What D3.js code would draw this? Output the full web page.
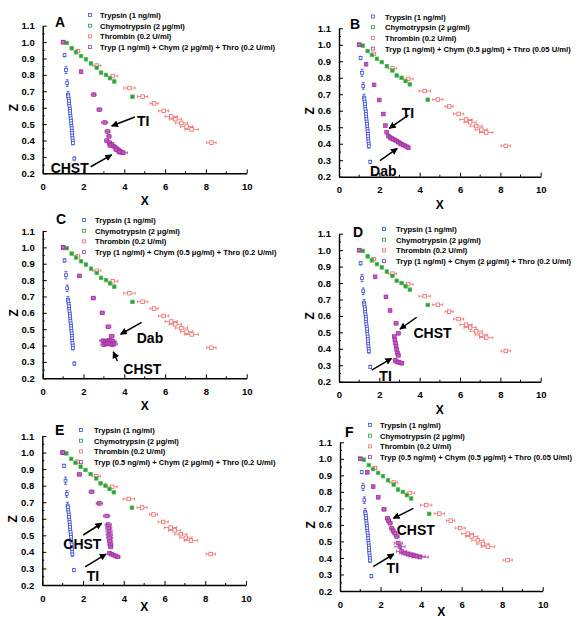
<!DOCTYPE html>
<html>
<head>
<meta charset="utf-8">
<script src="https://cdn.jsdelivr.net/npm/d3@7/dist/d3.min.js"></script>
<style>
body{margin:0;background:#fff;}
text{font-family:"Liberation Sans",Arial,sans-serif;}
</style>
</head>
<body>
<svg id="chart" width="581" height="618"></svg>
<script>
// shared series (same in every panel)
var trypX = [1.0,1.07,1.14,1.2,1.24,1.26,1.27,1.29,1.30,1.31,1.33,1.34,1.35,1.36,1.37,1.39,1.40,1.41,1.42,1.43,1.44,1.45,1.46,1.47,1.48,1.55]
var trypZ = [1.0,0.92,0.83,0.75,0.68,0.67,0.655,0.64,0.625,0.61,0.595,0.58,0.565,0.55,0.535,0.52,0.505,0.49,0.475,0.46,0.445,0.43,0.415,0.40,0.385,0.29]
var trypZErr = [0,0.01,0.022,0.02,0.02,0.014,0.012,0.012,0.012,0.012,0.012,0.012,0.012,0.012,0.012,0.012,0.012,0.012,0.012,0.012,0.012,0.012,0.012,0.012,0.012,0.01]

var chymX = [1.0,1.18,1.42,1.63,1.88,2.12,2.37,2.65,2.86,3.1,3.3,3.51,4.4]
var chymZ = [1.0,0.995,0.962,0.938,0.915,0.895,0.87,0.844,0.814,0.80,0.78,0.76,0.667]
var chymXErr = [0,0.03,0.03,0.03,0.03,0.03,0.03,0.04,0.04,0.05,0.05,0.05,0.08]

var thrX = [1.0,1.72,2.65,3.43,4.25,4.9,5.46,5.93,6.3,6.5,6.8,7.05,7.3,8.27]
var thrZ = [1.0,0.945,0.857,0.793,0.72,0.668,0.626,0.581,0.547,0.53,0.507,0.485,0.468,0.387]
var thrXErr = [0,0.1,0.2,0.25,0.28,0.25,0.2,0.25,0.3,0.3,0.3,0.3,0.33,0.23]

// mixtures, one per panel
var comboAX = [1.0,1.88,2.5,2.78,3.04,3.18,3.25,3.14,3.27,3.38,3.46,3.54,3.63,3.71,3.79,3.87,3.95,3.6,3.75,3.3]
var comboAZ = [1.0,0.82,0.68,0.588,0.51,0.455,0.425,0.399,0.387,0.377,0.367,0.359,0.35,0.342,0.334,0.328,0.325,0.345,0.33,0.37]
var comboAXErr = [0,0.05,0.12,0.12,0.15,0.12,0.1,0.1,0.1,0.1,0.1,0.1,0.12,0.12,0.15,0.15,0.2,0.1,0.1,0.1]

var comboBX = [1.0,1.34,1.74,2.0,2.2,2.3,2.36,2.45,2.53,2.61,2.69,2.78,2.86,2.94,3.02,3.1,3.19,3.27,3.36,3.44]
var comboBZ = [1.0,0.882,0.757,0.665,0.58,0.51,0.47,0.447,0.438,0.432,0.427,0.422,0.417,0.41,0.402,0.397,0.392,0.387,0.382,0.376]
var comboBXErr = [0,0.03,0.03,0.04,0.05,0.06,0.05,0.05,0.05,0.05,0.05,0.05,0.05,0.05,0.05,0.06,0.06,0.06,0.06,0.06]

var comboCX = [1.0,1.8,2.48,2.92,3.22,3.38,2.95,3.05,3.15,3.25,3.35,3.45,3.0,3.1,3.2,3.3,3.4,3.5]
var comboCZ = [1.0,0.826,0.69,0.60,0.515,0.458,0.43,0.425,0.428,0.432,0.43,0.425,0.405,0.41,0.415,0.41,0.405,0.41]
var comboCXErr = [0,0.07,0.1,0.1,0.12,0.12,0.15,0.15,0.15,0.15,0.15,0.15,0.15,0.15,0.15,0.15,0.15,0.15]

var comboDX = [1.0,1.79,2.33,2.53,2.83,2.94,2.74,2.77,2.8,2.83,2.86,2.9,2.94,2.78,2.86,2.95,3.05,3.12]
var comboDZ = [1.0,0.838,0.716,0.633,0.555,0.494,0.475,0.455,0.435,0.415,0.395,0.375,0.36,0.33,0.322,0.318,0.315,0.312]
var comboDXErr = [0,0.05,0.08,0.08,0.1,0.1,0.08,0.08,0.08,0.08,0.08,0.08,0.1,0.08,0.08,0.08,0.08,0.08]

var comboEX = [1.0,1.82,2.42,2.8,3.16,3.24,3.26,3.28,3.29,3.31,3.32,3.34,3.36,3.3,3.4,3.5,3.6,3.7]
var comboEZ = [1.0,0.868,0.763,0.693,0.617,0.565,0.545,0.525,0.505,0.485,0.465,0.445,0.43,0.392,0.386,0.38,0.375,0.37]
var comboEXErr = [0,0.1,0.12,0.15,0.15,0.15,0.15,0.15,0.15,0.15,0.12,0.12,0.1,0.1,0.1,0.1,0.12,0.12]

var comboFX = [1.0,1.35,1.64,1.89,2.17,2.34,2.4,2.47,2.55,2.62,2.7,2.8,2.88,2.96,3.04,3.2,3.35,3.5,3.65,3.8,3.95]
var comboFZ = [1.0,0.918,0.832,0.767,0.694,0.64,0.625,0.61,0.58,0.565,0.55,0.53,0.49,0.468,0.44,0.43,0.425,0.42,0.415,0.41,0.405]
var comboFXErr = [0,0.05,0.05,0.06,0.1,0.1,0.1,0.1,0.1,0.1,0.12,0.12,0.2,0.25,0.25,0.25,0.3,0.3,0.35,0.4,0.4]

var legendNames = ['Trypsin (1 ng/ml)', 'Chymotrypsin (2 \u03bcg/ml)', 'Thrombin (0.2 U/ml)']
var xTicks = [0,2,4,6,8,10]
var zTicks = [0.2,0.3,0.4,0.5,0.6,0.7,0.8,0.9,1.0,1.1]

var colBlue = '#3b4fd6', colGreen = '#2c9a3c', colRed = '#f06a6a', colPurple = '#9a3a9c', colMag = '#e84ae6'

// panel layout (pixels) + annotations in data units
var panels = [
  {id:'A', x0:42.7, x1:246.7, yt:25.7, yb:173.3, xl:32, lx:90, ly:15, lt:100, legend4:'Tryp (1 ng/ml) + Chym (2 \u03bcg/ml) + Thro (0.2 U/ml)',
   cx:comboAX, cz:comboAZ, ce:comboAXErr, letter:[55,27],
   notes:[{t:'TI', x:4.62, z:0.488, a:[4.52,0.543,3.38,0.488]}, {t:'CHST', x:0.39, z:0.2, a:[2.35,0.24,3.38,0.312]}]},
  {id:'B', x0:339, x1:540.7, yt:28.3, yb:176.7, xl:32, lx:373, ly:16.5, lt:385, legend4:'Tryp (1 ng/ml) + Chym (0.5 \u03bcg/ml) + Thro (0.05 U/ml)',
   cx:comboBX, cz:comboBZ, ce:comboBXErr, letter:[350,29],
   notes:[{t:'TI', x:3.11, z:0.556, a:[3.44,0.574,2.49,0.493]}, {t:'Dab', x:1.54, z:0.204, a:[2.03,0.297,2.89,0.372]}]},
  {id:'C', x0:42.7, x1:246.7, yt:231, yb:378.3, xl:32, lx:84, ly:220, lt:95, legend4:'Tryp (1 ng/ml) + Chym (0.5 \u03bcg/ml) + Thro (0.2 U/ml)',
   cx:comboCX, cz:comboCZ, ce:comboCXErr, letter:[56,224],
   notes:[{t:'Dab', x:4.61, z:0.417, a:[4.85,0.542,3.82,0.469]}, {t:'CHST', x:3.95, z:0.226, a:[3.66,0.306,3.46,0.362]}]},
  {id:'D', x0:339, x1:540.7, yt:233.7, yb:381.7, xl:32, lx:384, ly:229, lt:396, legend4:'Tryp (1 ng/ml) + Chym (2 \u03bcg/ml) + Thro (0.2 U/ml)',
   cx:comboDX, cz:comboDZ, ce:comboDXErr, letter:[353,237],
   notes:[{t:'CHST', x:3.69, z:0.464, a:[3.85,0.592,3.02,0.52]}, {t:'TI', x:2.0, z:0.204, a:[1.62,0.271,2.61,0.342]}]},
  {id:'E', x0:42.3, x1:246, yt:436, yb:585, xl:26, lx:81, ly:430, lt:94, legend4:'Tryp (0.5 ng/ml) + Chym (2 \u03bcg/ml) + Thro (0.2 U/ml)',
   cx:comboEX, cz:comboEZ, ce:comboEXErr, letter:[55,435],
   notes:[{t:'CHST', x:1.03, z:0.417, a:[2.01,0.502,2.92,0.573]}, {t:'TI', x:2.18, z:0.224, a:[2.1,0.31,3.13,0.387]}]},
  {id:'F', x0:340, x1:542.7, yt:442.3, yb:591, xl:25, lx:370, ly:425, lt:380, legend4:'Tryp (0.5 ng/ml) + Chym (0.5 \u03bcg/ml) + Thro (0.05 U/ml)',
   cx:comboFX, cz:comboFZ, ce:comboFXErr, letter:[345,437],
   notes:[{t:'CHST', x:2.8, z:0.539, a:[3.62,0.70,2.63,0.64]}, {t:'TI', x:2.3, z:0.309, a:[1.64,0.347,2.66,0.424]}]}
]

var svg = d3.select('#chart')
svg.append('defs').append('marker')
  .attr('id','arrow').attr('viewBox','0 0 10 10').attr('refX',9).attr('refY',5)
  .attr('markerWidth',7).attr('markerHeight',7).attr('markerUnits','userSpaceOnUse')
  .attr('orient','auto')
  .append('path').attr('d','M0,0L10,5L0,10z').attr('fill','#000')

function drawSeries(g, x, y, xs, zs, xe, ze, stroke, fill, size, fillOpacity){
  var pts = xs.map(function(v,i){ return {x:v, z:zs[i], xe:xe ? xe[i] : 0, ze:ze ? ze[i] : 0.008} })
  var eg = g.append('g').attr('stroke', stroke).attr('stroke-width', 0.8)
  pts.forEach(function(d){
    var px = x(d.x), py = y(d.z)
    if(d.xe > 0){
      eg.append('line').attr('x1', x(d.x-d.xe)).attr('x2', x(d.x+d.xe)).attr('y1', py).attr('y2', py)
      eg.append('line').attr('x1', x(d.x-d.xe)).attr('x2', x(d.x-d.xe)).attr('y1', py-1.5).attr('y2', py+1.5)
      eg.append('line').attr('x1', x(d.x+d.xe)).attr('x2', x(d.x+d.xe)).attr('y1', py-1.5).attr('y2', py+1.5)
    }
    if(d.ze > 0){
      eg.append('line').attr('x1', px).attr('x2', px).attr('y1', y(d.z-d.ze)).attr('y2', y(d.z+d.ze))
      eg.append('line').attr('x1', px-1.5).attr('x2', px+1.5).attr('y1', y(d.z-d.ze)).attr('y2', y(d.z-d.ze))
      eg.append('line').attr('x1', px-1.5).attr('x2', px+1.5).attr('y1', y(d.z+d.ze)).attr('y2', y(d.z+d.ze))
    }
  })
  g.append('g').selectAll('rect').data(pts).enter().append('rect')
    .attr('x', function(d){ return x(d.x) - size/2 })
    .attr('y', function(d){ return y(d.z) - size/2 })
    .attr('width', size).attr('height', size)
    .attr('fill', fill).attr('fill-opacity', fillOpacity == null ? 1 : fillOpacity)
    .attr('stroke', stroke).attr('stroke-width', 0.8)
}

panels.forEach(function(p){
  var x = d3.scaleLinear().domain([0,10]).range([p.x0, p.x1])
  var y = d3.scaleLinear().domain([0.2,1.1]).range([p.yb, p.yt])
  var g = svg.append('g').attr('class','panel-' + p.id)

  // minor ticks
  var minor = g.append('g').attr('stroke','#000').attr('stroke-width',1)
  ;[1,3,5,7,9].forEach(function(v){
    minor.append('line').attr('x1', x(v)).attr('x2', x(v)).attr('y1', p.yb).attr('y2', p.yb-2)
  })
  ;[0.25,0.35,0.45,0.55,0.65,0.75,0.85,0.95,1.05].forEach(function(v){
    minor.append('line').attr('x1', p.x0).attr('x2', p.x0+2).attr('y1', y(v)).attr('y2', y(v))
  })

  var xa = g.append('g').attr('transform','translate(0,' + p.yb + ')')
    .call(d3.axisBottom(x).tickValues(xTicks).tickFormat(d3.format('d')).tickSizeInner(-4).tickSizeOuter(0).tickPadding(10))
  var ya = g.append('g').attr('transform','translate(' + p.x0 + ',0)')
    .call(d3.axisLeft(y).tickValues(zTicks).tickFormat(d3.format('.1f')).tickSizeInner(-4).tickSizeOuter(0).tickPadding(8))
  ;[xa, ya].forEach(function(a){
    a.select('.domain').attr('stroke','#000').attr('stroke-width',1.4)
    a.selectAll('.tick line').attr('stroke','#000').attr('stroke-width',1)
    a.selectAll('.tick text').attr('font-size', 9.5).attr('font-weight','bold').attr('fill','#000')
      .attr('font-family','"Liberation Sans",Arial,sans-serif')
  })

  g.append('text').attr('x', x(5)).attr('y', p.yb + p.xl).attr('text-anchor','middle')
    .attr('font-size',12).attr('font-weight','bold').text('X')
  g.append('text').attr('transform','translate(' + (p.x0 - 25) + ',' + y(0.6) + ') rotate(-90)')
    .attr('text-anchor','middle').attr('font-size',12).attr('font-weight','bold').text('Z')
  g.append('text').attr('x', p.letter[0]).attr('y', p.letter[1])
    .attr('font-size',14).attr('font-weight','bold').text(p.id)

  drawSeries(g, x, y, thrX, thrZ, thrXErr, null, colRed, '#fff', 3.5)
  drawSeries(g, x, y, chymX, chymZ, chymXErr, null, '#5cc05c', colGreen, 3.5)
  drawSeries(g, x, y, trypX, trypZ, null, trypZErr, colBlue, '#fff', 2.8)
  drawSeries(g, x, y, p.cx, p.cz, p.ce, null, colPurple, colMag, 3.6, 0.55)

  // legend
  var names = legendNames.concat([p.legend4])
  var cols = [colBlue, colGreen, colRed, colPurple]
  names.forEach(function(n, i){
    var ty = p.ly + i * 10.7
    g.append('rect').attr('x', p.lx - 1.5).attr('y', ty - 1.5).attr('width',3).attr('height',3)
      .attr('fill','none').attr('stroke', cols[i]).attr('stroke-width',0.8)
    g.append('text').attr('x', p.lt).attr('y', ty + 3).attr('font-size',7.6).attr('font-weight','bold')
      .text(n)
  })

  // annotations
  p.notes.forEach(function(n){
    g.append('line').attr('x1', x(n.a[0])).attr('y1', y(n.a[1])).attr('x2', x(n.a[2])).attr('y2', y(n.a[3]))
      .attr('stroke','#000').attr('stroke-width',1.5).attr('marker-end','url(#arrow)')
    g.append('text').attr('x', x(n.x)).attr('y', y(n.z)).attr('font-size',14).attr('font-weight','bold').text(n.t)
  })
})
</script>
</body>
</html>
